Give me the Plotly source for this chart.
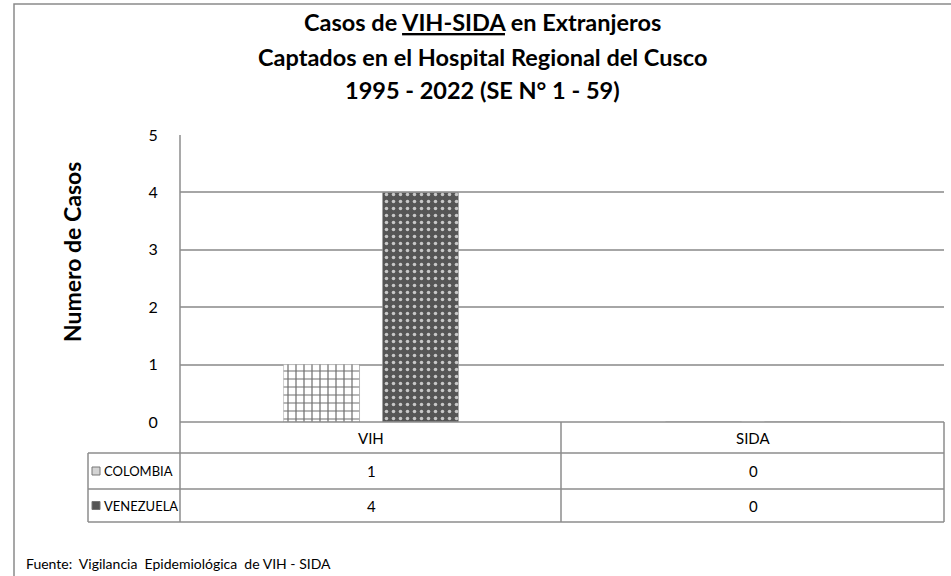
import plotly.graph_objects as go

# ---- data ----
categories = ["VIH", "SIDA"]
series_names = ["COLOMBIA", "VENEZUELA"]
colombia = [1, 0]
venezuela = [4, 0]
series_values = [colombia, venezuela]
y_ticks = [0, 1, 2, 3, 4, 5]
title_lines = [
    "Casos de <u>VIH-SIDA</u> en Extranjeros",
    "Captados en el Hospital Regional del Cusco",
    "1995 - 2022 (SE N° 1 - 59)",
]
y_title = "Numero de Casos"
source_text = "Fuente:\u00a0 Vigilancia\u00a0 Epidemiológica\u00a0 de VIH - SIDA"

# ---- geometry (pixels) ----
W, H = 951, 576
L, R, T, B = 180, 944, 135, 422
FONT = "Lato, Carlito, Calibri, sans-serif"
LINE = "#8c8c8c"


def px(x):
    return (x - L) / (R - L)


def py(y):
    return (B - y) / (B - T)


fig = go.Figure()

styles = [
    dict(color="white", pattern=dict(shape="+", fgcolor="#6f6f6f", bgcolor="#ffffff",
                                     size=8, solidity=0.28, fillmode="replace")),
    dict(color="#555555", pattern=dict(shape=".", fgcolor="#c8c8c8", bgcolor="#555555",
                                       size=7, solidity=0.2, fillmode="replace")),
]
for name, vals, st in zip(series_names, series_values, styles):
    fig.add_trace(go.Bar(
        x=categories, y=vals, name=name,
        marker=dict(color=st["color"], pattern=st["pattern"],
                    line=dict(color="#a0a0a0", width=0.5)),
        showlegend=False,
    ))

fig.update_layout(
    width=W, height=H,
    margin=dict(l=L, r=W - R, t=T, b=H - B, autoexpand=False),
    paper_bgcolor="white", plot_bgcolor="white",
    barmode="group", bargap=0.482, bargroupgap=0.232,
    font=dict(family=FONT, size=15, color="#000000"),
    xaxis=dict(range=[-0.5, 1.5], showticklabels=False, showgrid=False,
               zeroline=False, showline=False, ticks=""),
    yaxis=dict(range=[0, 5], tickvals=y_ticks, showgrid=True, gridcolor="#a6a6a6",
               gridwidth=1.5, zeroline=False, showline=False,
               ticks="outside", ticklen=18, tickcolor="rgba(0,0,0,0)",
               tickfont=dict(size=16, family=FONT)),
)

shapes = []


def hline(x0, x1, y):
    shapes.append(dict(type="line", xref="paper", yref="paper",
                       x0=px(x0), x1=px(x1), y0=py(y), y1=py(y),
                       line=dict(color=LINE, width=1.5)))


def vline(x, y0, y1):
    shapes.append(dict(type="line", xref="paper", yref="paper",
                       x0=px(x), x1=px(x), y0=py(y0), y1=py(y1),
                       line=dict(color=LINE, width=1.5)))


# outer chart frame
shapes.append(dict(type="rect", xref="paper", yref="paper",
                   x0=px(14), x1=px(962), y0=py(4), y1=py(590),
                   line=dict(color="#8a8a8a", width=1.5), fillcolor="rgba(0,0,0,0)"))

# axis + data table
row_y = [422, 453, 489, 522]
TBL_L = 88
vline(L, T, row_y[-1])
hline(L, R, row_y[0])
for yy in row_y[1:]:
    hline(TBL_L, R, yy)
vline(561, row_y[0], row_y[-1])
vline(R, row_y[0], row_y[-1])
vline(TBL_L, row_y[1], row_y[-1])

# legend keys
key_fill = ["#d4d4d4", "#555555"]
for i, c in enumerate(key_fill):
    yc = (row_y[i + 1] + row_y[i + 2]) / 2
    shapes.append(dict(type="rect", xref="paper", yref="paper",
                       x0=px(92), x1=px(100), y0=py(yc + 4), y1=py(yc - 4),
                       line=dict(color="#777777", width=1), fillcolor=c))
fig.update_layout(shapes=shapes)

ann = []
# category header row
for c in categories:
    ann.append(dict(x=c, xref="x", y=py((row_y[0] + row_y[1]) / 2), yref="paper",
                    xanchor="center", yanchor="middle",
                    text=c, showarrow=False, font=dict(size=15, family=FONT)))
# values rows
for i, (name, vals) in enumerate(zip(series_names, series_values)):
    yc = py((row_y[i + 1] + row_y[i + 2]) / 2)
    ann.append(dict(x=px(102), xref="paper", y=yc, yref="paper",
                    xanchor="left", yanchor="middle",
                    text=name, showarrow=False, font=dict(size=13, family=FONT)))
    for c, v in zip(categories, vals):
        ann.append(dict(x=c, xref="x", y=yc, yref="paper", text=str(v),
                        xanchor="center", yanchor="middle",
                        showarrow=False, font=dict(size=15, family=FONT)))
# title
for yy, line in zip([22, 57, 90], title_lines):
    ann.append(dict(x=px(482), xref="paper", y=py(yy), yref="paper", text=f"<b>{line}</b>",
                    xanchor="center", yanchor="middle",
                    showarrow=False, font=dict(size=23.5, family=FONT)))
# y title
ann.append(dict(x=px(72), xref="paper", y=py(252), yref="paper", text=f"<b>{y_title}</b>",
                xanchor="center", yanchor="middle",
                textangle=-90, showarrow=False, font=dict(size=23, family=FONT)))
# source
ann.append(dict(x=px(24), xref="paper", y=py(563), yref="paper",
                xanchor="left", yanchor="middle",
                text=source_text, showarrow=False, font=dict(size=14, family=FONT)))
fig.update_layout(annotations=ann)

fig.write_html("out.html", config={"displayModeBar": False},
               post_script="document.body.style.margin='0';")
